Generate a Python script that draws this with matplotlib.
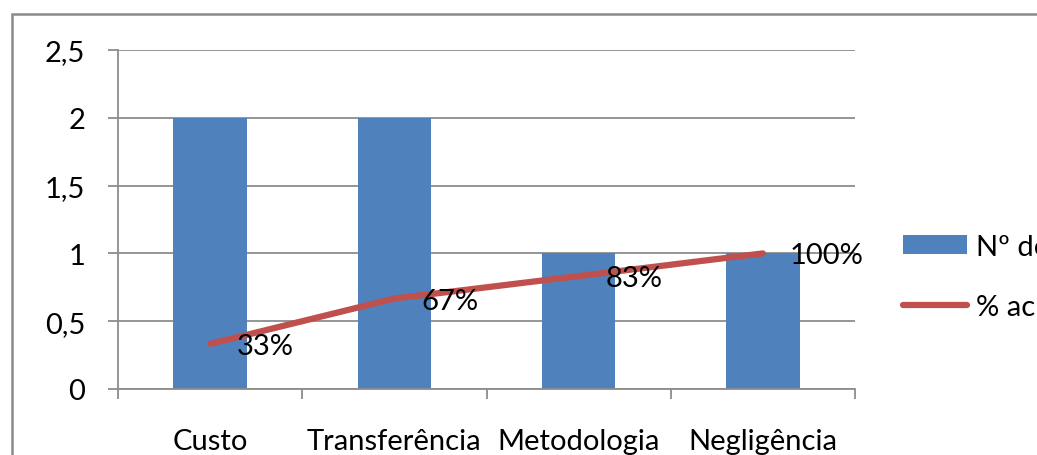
import matplotlib
matplotlib.use("Agg")
import matplotlib.pyplot as plt
from matplotlib.patches import Rectangle, Patch
from matplotlib.lines import Line2D
from matplotlib.ticker import FuncFormatter, FixedLocator

plt.rcParams["font.family"] = ["Lato", "DejaVu Sans"]

# data
categories = ["Custo", "Transferência", "Metodologia", "Negligência"]
counts = [2, 2, 1, 1]
cum_share = [0.333, 0.667, 0.833, 1.0]
cum_labels = ["33%", "67%", "83%", "100%"]
legend_labels = ["Nº de ocorrências", "% acumulado"]

BLUE = "#4F81BD"
RED = "#C0504D"
GRID = "#8C8C8C"
FS = 21

fig = plt.figure(figsize=(10.37, 4.56), dpi=100)
ax = fig.add_axes([118 / 1037, 66 / 456, 737 / 1037, 339 / 456])

x = list(range(len(categories)))
ax.bar(x, counts, width=0.4, color=BLUE, zorder=2)
ax.plot(x, cum_share, color=RED, lw=4.5, solid_capstyle="round",
        solid_joinstyle="round", zorder=3)
for xi, yi, lab in zip(x, cum_share, cum_labels):
    ax.annotate(lab, (xi, yi), xytext=(19.5, -1.5), textcoords="offset points",
                ha="left", va="center", fontsize=FS, color="black", zorder=4)

ax.set_xlim(-0.5, len(categories) - 0.5)
ax.set_ylim(0, 2.5)
ax.set_yticks([0, 0.5, 1, 1.5, 2, 2.5])
ax.yaxis.set_major_formatter(FuncFormatter(
    lambda v, p: f"{v:g}".replace(".", ",")))
ax.grid(axis="y", color=GRID, lw=1.3, zorder=0)
ax.set_axisbelow(True)

ax.set_xticks(x)
ax.set_xticklabels(categories)
ax.xaxis.set_minor_locator(FixedLocator([i - 0.5 for i in range(len(categories) + 1)]))
ax.tick_params(axis="x", which="major", length=0, pad=28, labelsize=FS)
ax.tick_params(axis="x", which="minor", length=7.5, width=1.3, color=GRID,
               direction="out")
ax.tick_params(axis="y", length=7.5, width=1.3, color=GRID, pad=16,
               labelsize=FS)

for s in ["top", "right"]:
    ax.spines[s].set_visible(False)
for s in ["left", "bottom"]:
    ax.spines[s].set_color(GRID)
    ax.spines[s].set_linewidth(1.3)

handles = [Patch(facecolor=BLUE, edgecolor="none"),
           Line2D([], [], color=RED, lw=4.5, solid_capstyle="round")]
fig.legend(handles, legend_labels, loc="upper left",
           bbox_to_anchor=(903 / 1037, 1 - 235 / 456), frameon=False,
           fontsize=FS, handlelength=2.2, handleheight=0.6,
           handletextpad=0.3, labelspacing=1.15, borderpad=0,
           borderaxespad=0)

# outer chart frame (right and bottom edges fall outside the picture)
fig.add_artist(Rectangle((12 / 1037, -0.2), 1.2, 1.2 - 15 / 456,
                         transform=fig.transFigure, fill=False,
                         edgecolor="#8A8A8A", lw=1.8))

fig.savefig("out.png", dpi=100)
